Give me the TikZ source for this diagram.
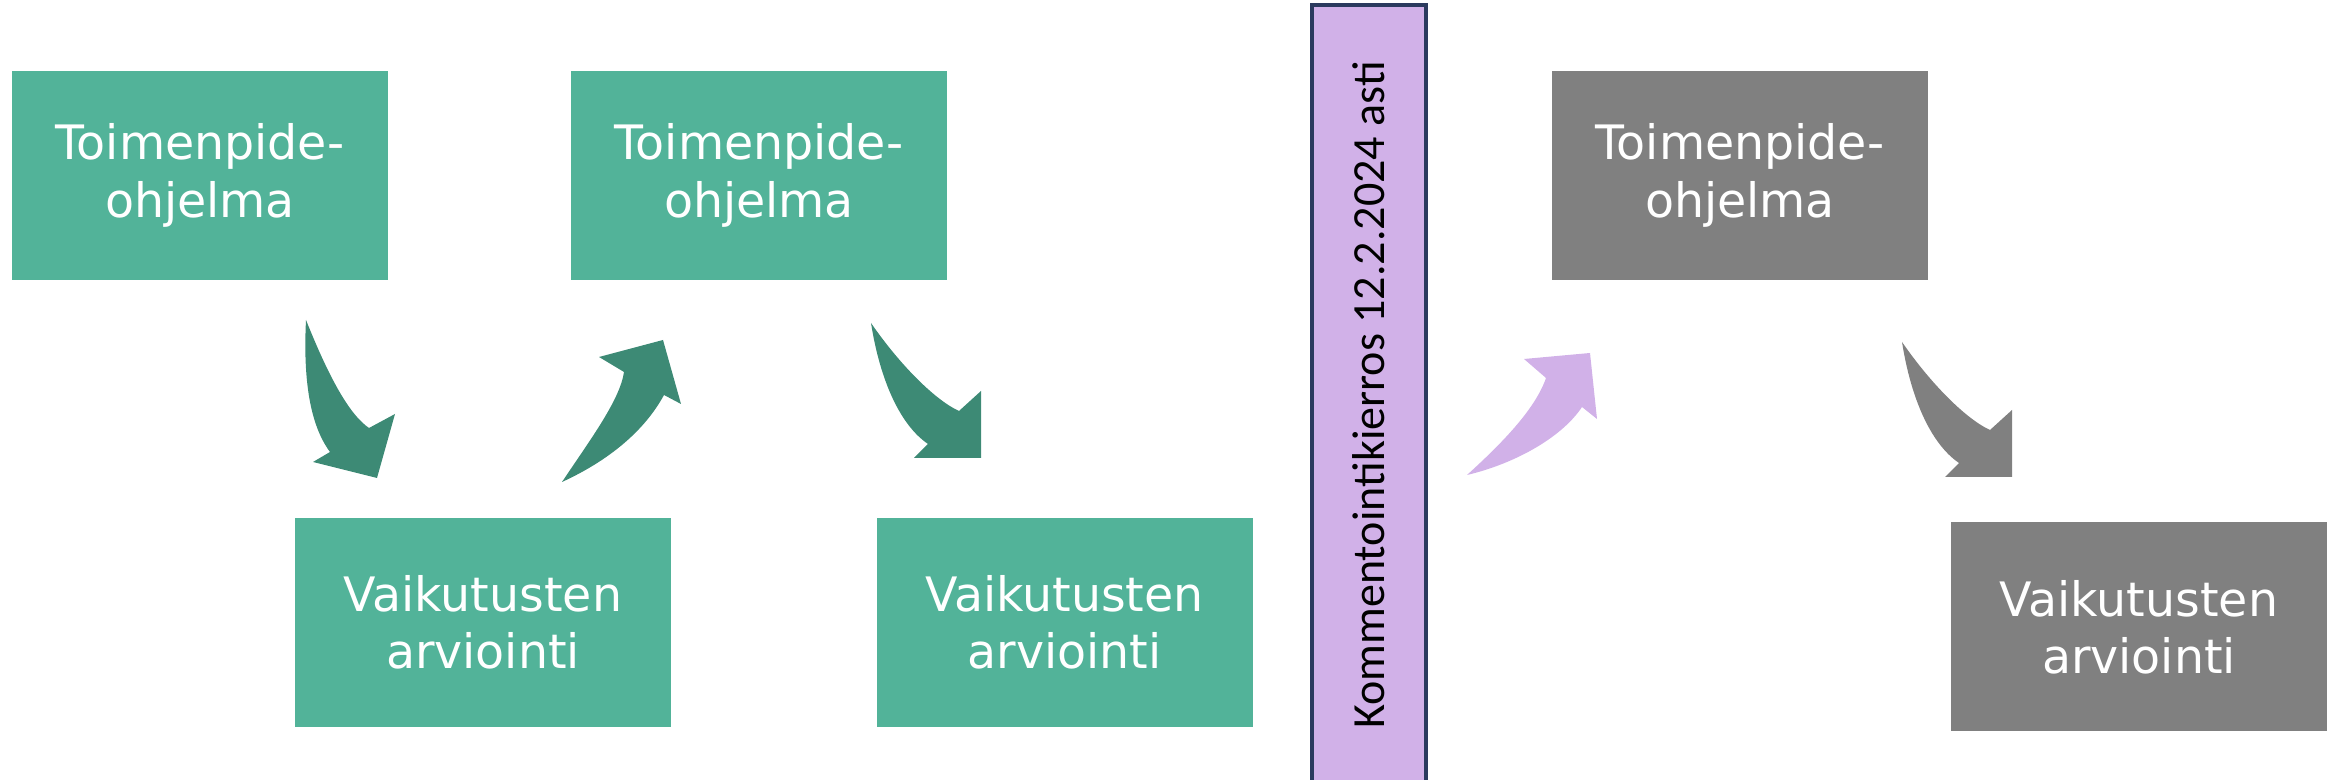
\documentclass[tikz,border=0pt]{standalone}
\usepackage{fontspec}
\setmainfont{DejaVu Sans}
\newfontfamily\barfont{Carlito}
\definecolor{boxgreen}{HTML}{52B399}
\definecolor{arrowgreen}{HTML}{3D8A75}
\definecolor{boxgray}{HTML}{808080}
\definecolor{barlilac}{HTML}{D1B1E8}
\definecolor{barline}{HTML}{2B3A5E}
\tikzset{
  >=latex,
  planbox/.style={fill=#1,text=white,minimum width=37.6mm,minimum height=20.9mm,
    inner sep=0pt,align=center,font=\fontsize{13.5}{16.3}\selectfont}
}

\begin{document}
\begin{tikzpicture}[x=0.1mm,y=-0.1mm]
      \useasboundingbox (0,0) rectangle (2338,780);
      \node[planbox=boxgreen] (t1) at (200,175.5){Toimenpide-\\ohjelma};
      \node[planbox=boxgreen] (t2) at (759,175.5){Toimenpide-\\ohjelma};
      \node[planbox=boxgreen] (v1) at (483,622.5){Vaikutusten\\arviointi};
      \node[planbox=boxgreen] (v2) at (1064.5,622.5){Vaikutusten\\arviointi};
      \node[planbox=boxgray] (t3) at (1740,175.5){Toimenpide-\\ohjelma};
      \node[planbox=boxgray] (v3) at (2139,627){Vaikutusten\\arviointi};
      % kommenttikierros
      \node[rotate=90,fill=barlilac,draw=barline,line width=1.2pt,minimum width=78mm,
        minimum height=11.4mm,inner sep=0pt,font=\barfont\fontsize{13.1}{15}\selectfont]
        (bar) at (1369,395){Kommentointikierros 12.2.2024 asti};
      % nuolet
      \fill[arrowgreen] (306,320) .. controls (303,380) and (310,425) .. (330,452)
        -- (313,462) -- (377,478) -- (395,414) -- (369,428)
        .. controls (350,415) and (330,380) .. (306,320) -- cycle;
      \fill[arrowgreen] (562,482) .. controls (610,460) and (645,430) .. (664,395)
        -- (681,404) -- (663,340) -- (599,357) -- (624,372)
        .. controls (620,400) and (590,440) .. (562,482) -- cycle;
      \fill[arrowgreen] (871,323) .. controls (880,380) and (900,425) .. (928,444)
        -- (914,458) -- (981,458) -- (981,391) -- (959,411)
        .. controls (935,400) and (900,365) .. (871,323) -- cycle;
      \fill[barlilac] (1467,475) .. controls (1510,465) and (1560,440) .. (1582,407)
        -- (1597,419) -- (1590,353) -- (1524,359) -- (1546,378)
        .. controls (1535,410) and (1500,445) .. (1467,475) -- cycle;
      \fill[boxgray,shift={(1031,19)}] (871,323) .. controls (880,380) and (900,425) .. (928,444)
        -- (914,458) -- (981,458) -- (981,391) -- (959,411)
        .. controls (935,400) and (900,365) .. (871,323) -- cycle;
    \end{tikzpicture}
\end{document}
